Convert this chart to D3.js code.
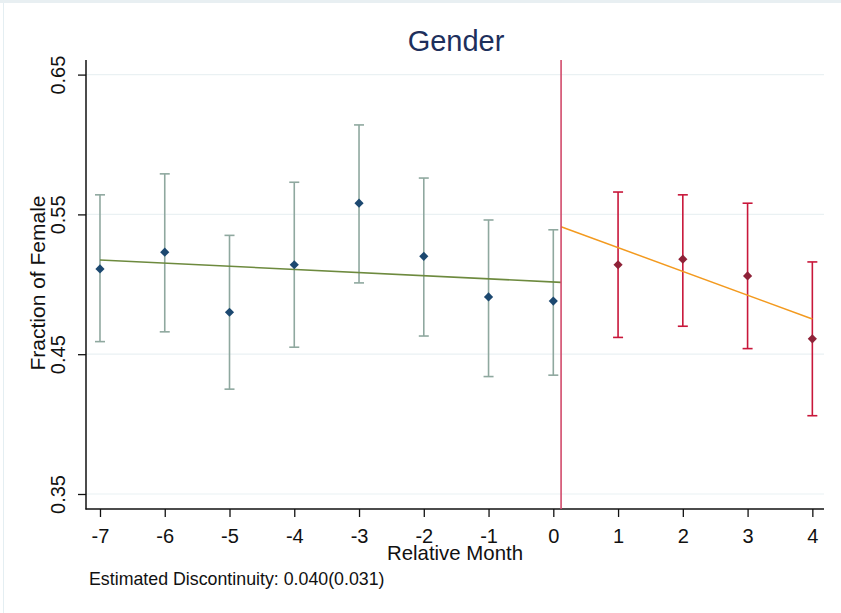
<!DOCTYPE html>
<html>
<head>
<meta charset="utf-8">
<script src="https://cdn.jsdelivr.net/npm/d3@7"></script>
<style>
  html, body { margin: 0; padding: 0; background: #ffffff; }
  svg { display: block; font-family: "Liberation Sans", Arial, sans-serif; }
</style>
</head>
<body>
<svg id="chart" width="841" height="613"></svg>
<script>
// Relative month of each binned mean
const months = [-7, -6, -5, -4, -3, -2, -1, 0, 1, 2, 3, 4];
// Fraction of female applicants per month, with 95% confidence bounds
const means = [0.511, 0.523, 0.480, 0.514, 0.558, 0.520, 0.491, 0.488, 0.514, 0.518, 0.506, 0.461];
const ciLow = [0.459, 0.466, 0.425, 0.455, 0.501, 0.463, 0.434, 0.435, 0.462, 0.470, 0.454, 0.406];
const ciHigh = [0.564, 0.579, 0.535, 0.573, 0.614, 0.576, 0.546, 0.539, 0.566, 0.564, 0.558, 0.516];
// Linear fits on each side of the cutoff: [month, fitted value]
const cutoff = 0.12;
const fitBefore = [[-7, 0.5174], [cutoff, 0.5014]];
const fitAfter = [[cutoff, 0.5412], [4, 0.4752]];
const yTicks = [0.35, 0.45, 0.55, 0.65];
const xTicks = months;
const titleText = "Gender";
const xLabel = "Relative Month";
const yLabel = "Fraction of Female";
const noteText = "Estimated Discontinuity: 0.040(0.031)";

const svg = d3.select("#chart");

// frame strip along the top and left edges
svg.append("rect").attr("x", 0).attr("y", 0).attr("width", 841).attr("height", 3).attr("fill", "#e8eff2");
svg.append("rect").attr("x", 3).attr("y", 3).attr("width", 1).attr("height", 610).attr("fill", "#e4eef2");

const x = d3.scaleLinear().domain([-7.216, 4.18]).range([86, 824]);
const y = d3.scaleLinear().domain([0.35, 0.65]).range([494, 74.6]);
const yBottom = 509, yTop = 60;

// horizontal gridlines
svg.append("g").selectAll("line").data(yTicks).join("line")
  .attr("x1", 86).attr("x2", 824)
  .attr("y1", d => y(d)).attr("y2", d => y(d))
  .attr("stroke", "#eaf1f3").attr("stroke-width", 1.2);

// y axis
const yAxis = svg.append("g").attr("transform", "translate(86,0)")
  .call(d3.axisLeft(y).tickValues(yTicks).tickFormat(d3.format(".2f")).tickSize(8).tickSizeOuter(0));
yAxis.select(".domain").remove();
yAxis.append("line").attr("x1", 0).attr("x2", 0).attr("y1", yTop).attr("y2", yBottom + 0.5)
  .attr("stroke", "#111").attr("stroke-width", 1.5);
yAxis.selectAll(".tick line").attr("stroke", "#111").attr("stroke-width", 1.3);
yAxis.selectAll(".tick text")
  .attr("font-size", 20).attr("fill", "#111")
  .attr("transform", "rotate(-90)")
  .attr("x", 0).attr("y", -21).attr("dy", 0)
  .attr("text-anchor", "middle");

// x axis
const xAxis = svg.append("g").attr("transform", `translate(0,${yBottom})`)
  .call(d3.axisBottom(x).tickValues(xTicks).tickFormat(d3.format("d")).tickSize(8).tickSizeOuter(0));
xAxis.select(".domain").remove();
xAxis.append("line").attr("x1", 85.5).attr("x2", 824).attr("y1", 0).attr("y2", 0)
  .attr("stroke", "#111").attr("stroke-width", 1.5);
xAxis.selectAll(".tick line").attr("stroke", "#111").attr("stroke-width", 1.3);
xAxis.selectAll(".tick text")
  .attr("font-size", 20).attr("fill", "#111")
  .attr("y", 34).attr("dy", 0);
// the minus sign in this style is a plain hyphen
xAxis.selectAll(".tick text").text(d => String(d));

const pts = months.map((m, i) => ({ m, v: means[i], lo: ciLow[i], hi: ciHigh[i], after: m > cutoff }));

// confidence intervals
const ci = svg.append("g").selectAll("g").data(pts).join("g")
  .attr("stroke", d => d.after ? "#c8173a" : "#8fa89f")
  .attr("stroke-width", d => d.after ? 1.6 : 1.6);
ci.append("line").attr("x1", d => x(d.m)).attr("x2", d => x(d.m))
  .attr("y1", d => y(d.lo)).attr("y2", d => y(d.hi));
ci.append("line").attr("x1", d => x(d.m) - 5).attr("x2", d => x(d.m) + 5)
  .attr("y1", d => y(d.lo)).attr("y2", d => y(d.lo));
ci.append("line").attr("x1", d => x(d.m) - 5).attr("x2", d => x(d.m) + 5)
  .attr("y1", d => y(d.hi)).attr("y2", d => y(d.hi));

// fitted lines
const line = d3.line().x(d => x(d[0])).y(d => y(d[1]));
svg.append("path").datum(fitBefore).attr("d", line)
  .attr("fill", "none").attr("stroke", "#6d8a3e").attr("stroke-width", 1.6);
svg.append("path").datum(fitAfter).attr("d", line)
  .attr("fill", "none").attr("stroke", "#f39a1f").attr("stroke-width", 1.5);

// cutoff line
svg.append("line").attr("x1", x(cutoff)).attr("x2", x(cutoff))
  .attr("y1", yTop).attr("y2", yBottom)
  .attr("stroke", "#d24a6a").attr("stroke-width", 1.6);

// diamond markers
const diamond = "M0,-4.6L4.6,0L0,4.6L-4.6,0Z";
svg.append("g").selectAll("path").data(pts).join("path")
  .attr("d", diamond)
  .attr("transform", d => `translate(${x(d.m)},${y(d.v)})`)
  .attr("fill", d => d.after ? "#8e2238" : "#1c4870");

// titles
svg.append("text").attr("x", 456).attr("y", 51).attr("text-anchor", "middle")
  .attr("font-size", 29).attr("fill", "#1d2f5c").text(titleText);
svg.append("text").attr("x", 455).attr("y", 560).attr("text-anchor", "middle")
  .attr("font-size", 20.4).attr("fill", "#111").text(xLabel);
svg.append("text").attr("transform", "translate(45,283) rotate(-90)").attr("text-anchor", "middle")
  .attr("font-size", 21).attr("fill", "#111").text(yLabel);
svg.append("text").attr("x", 89).attr("y", 585)
  .attr("font-size", 17.8).attr("fill", "#111").text(noteText);
</script>
</body>
</html>
